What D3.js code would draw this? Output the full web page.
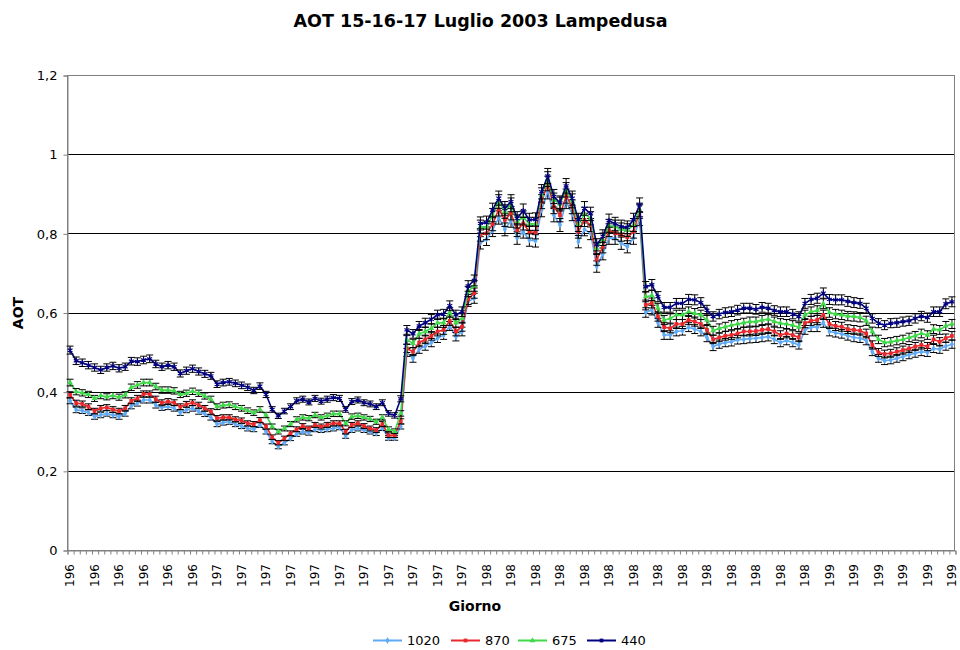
<!DOCTYPE html>
<html>
<head>
<meta charset="utf-8">
<script src="https://cdn.jsdelivr.net/npm/d3@7"></script>
<style>
  html, body { margin: 0; padding: 0; background: #fff; }
  svg { display: block; font-family: "DejaVu Sans", Verdana, sans-serif; }
</style>
</head>
<body>
<svg id="chart" width="960" height="650"></svg>
<script>
// AOT measurements at four wavelengths (nm), one value per observation
const seriesNames = ["1020", "870", "675", "440"];

const aot1020 = [0.377,0.354,0.352,0.347,0.337,0.341,0.345,0.341,0.337,0.345,
0.364,0.371,0.379,0.379,0.366,0.360,0.362,0.358,0.347,0.354,
0.358,0.350,0.344,0.335,0.318,0.322,0.324,0.318,0.313,0.307,
0.305,0.316,0.299,0.274,0.261,0.271,0.282,0.293,0.299,0.296,
0.305,0.303,0.305,0.307,0.310,0.288,0.303,0.307,0.303,0.299,
0.295,0.308,0.283,0.283,0.312,0.499,0.484,0.507,0.515,0.524,
0.535,0.543,0.566,0.539,0.552,0.628,0.636,0.776,0.785,0.808,
0.840,0.810,0.832,0.788,0.804,0.783,0.781,0.859,0.905,0.846,
0.821,0.880,0.849,0.779,0.810,0.800,0.716,0.748,0.788,0.788,
0.775,0.766,0.788,0.836,0.600,0.606,0.574,0.543,0.543,0.552,
0.554,0.563,0.558,0.552,0.537,0.514,0.520,0.524,0.526,0.531,
0.532,0.534,0.535,0.537,0.539,0.532,0.524,0.529,0.524,0.518,
0.556,0.563,0.563,0.574,0.552,0.549,0.546,0.541,0.537,0.535,
0.529,0.501,0.484,0.478,0.480,0.484,0.488,0.493,0.497,0.501,
0.499,0.509,0.507,0.515,0.520];

const aot870 = [0.392,0.371,0.369,0.362,0.351,0.358,0.360,0.355,0.351,0.358,
0.377,0.383,0.394,0.394,0.381,0.372,0.375,0.372,0.362,0.368,
0.372,0.366,0.358,0.350,0.333,0.335,0.335,0.330,0.327,0.320,
0.318,0.328,0.312,0.285,0.271,0.282,0.295,0.305,0.313,0.307,
0.316,0.312,0.316,0.320,0.320,0.299,0.316,0.320,0.313,0.307,
0.303,0.318,0.290,0.290,0.325,0.509,0.501,0.524,0.532,0.541,
0.552,0.556,0.579,0.552,0.564,0.633,0.649,0.796,0.800,0.823,
0.861,0.834,0.851,0.808,0.825,0.804,0.802,0.880,0.926,0.867,
0.846,0.894,0.867,0.804,0.834,0.821,0.734,0.766,0.808,0.800,
0.796,0.790,0.804,0.855,0.619,0.624,0.590,0.563,0.560,0.571,
0.571,0.581,0.577,0.571,0.556,0.532,0.537,0.541,0.543,0.547,
0.552,0.552,0.553,0.556,0.558,0.552,0.543,0.547,0.543,0.537,
0.573,0.579,0.581,0.594,0.571,0.566,0.564,0.558,0.556,0.554,
0.547,0.518,0.499,0.495,0.497,0.501,0.505,0.509,0.514,0.518,
0.514,0.532,0.526,0.535,0.541];

const aot675 = [0.423,0.400,0.397,0.393,0.383,0.390,0.387,0.390,0.386,0.392,
0.411,0.417,0.423,0.423,0.413,0.404,0.404,0.402,0.393,0.396,
0.401,0.396,0.389,0.381,0.362,0.366,0.367,0.362,0.358,0.352,
0.347,0.355,0.341,0.312,0.299,0.307,0.318,0.330,0.335,0.333,
0.341,0.335,0.339,0.344,0.344,0.320,0.337,0.339,0.335,0.331,
0.324,0.335,0.305,0.300,0.345,0.531,0.522,0.546,0.552,0.560,
0.574,0.574,0.600,0.574,0.585,0.653,0.667,0.817,0.815,0.846,
0.880,0.855,0.872,0.830,0.840,0.824,0.824,0.897,0.937,0.884,
0.874,0.910,0.882,0.821,0.849,0.838,0.762,0.785,0.819,0.817,
0.810,0.808,0.821,0.859,0.640,0.643,0.611,0.581,0.585,0.594,
0.594,0.602,0.598,0.594,0.581,0.554,0.560,0.564,0.568,0.571,
0.574,0.577,0.577,0.581,0.583,0.577,0.573,0.571,0.568,0.563,
0.594,0.602,0.605,0.622,0.600,0.596,0.594,0.591,0.590,0.588,
0.579,0.552,0.532,0.524,0.526,0.529,0.532,0.537,0.541,0.547,
0.543,0.558,0.556,0.566,0.571];

const aot440 = [0.505,0.478,0.473,0.467,0.461,0.455,0.461,0.465,0.459,0.463,
0.477,0.476,0.480,0.483,0.470,0.463,0.467,0.463,0.446,0.453,
0.458,0.451,0.445,0.440,0.419,0.423,0.425,0.421,0.416,0.411,
0.403,0.414,0.393,0.355,0.339,0.351,0.362,0.377,0.381,0.374,
0.383,0.376,0.381,0.385,0.383,0.355,0.375,0.379,0.372,0.369,
0.362,0.372,0.345,0.340,0.382,0.556,0.546,0.566,0.574,0.583,
0.594,0.596,0.617,0.594,0.602,0.667,0.681,0.825,0.827,0.859,
0.889,0.863,0.880,0.838,0.857,0.834,0.835,0.905,0.945,0.893,
0.877,0.920,0.889,0.834,0.863,0.849,0.771,0.793,0.832,0.824,
0.817,0.815,0.834,0.872,0.665,0.670,0.640,0.613,0.613,0.623,
0.623,0.633,0.632,0.625,0.606,0.590,0.596,0.600,0.602,0.606,
0.611,0.611,0.608,0.613,0.611,0.605,0.602,0.602,0.596,0.590,
0.623,0.633,0.636,0.649,0.633,0.632,0.632,0.628,0.625,0.623,
0.611,0.585,0.573,0.568,0.573,0.574,0.577,0.579,0.585,0.591,
0.587,0.602,0.602,0.622,0.627];

// Category labels (day of year), one shown every 4th observation
const dayLabels = ["196","196","196","196","196","196",
"197","197","197","197","197","197","197","197","197","197","197",
"198","198","198","198","198","198","198","198","198","198","198","198","198","198",
"199","199","199","199","199","199"];
const labelEvery = 4;

const yTickValues = [0, 0.2, 0.4, 0.6, 0.8, 1.0, 1.2];
const yTickLabels = ["0", "0,2", "0,4", "0,6", "0,8", "1", "1,2"];

// relative uncertainty drawn as error bars
const errFraction = 0.02;

const seriesValues = [aot1020, aot870, aot675, aot440];
const seriesColors = ["#5fa9f5", "#e8282c", "#3fd94a", "#000080"];
const seriesSymbols = [d3.symbolDiamond, d3.symbolSquare, d3.symbolTriangle, d3.symbolAsterisk];

const svg = d3.select("#chart");
const plot = { left: 67, right: 955, top: 75, bottom: 550 };
const N = aot440.length;

const x = d3.scaleBand().domain(d3.range(N)).range([plot.left, plot.right]).padding(0);
const cx = i => x(i) + x.bandwidth() / 2;
const xEdge = d3.scaleLinear().domain([0, N]).range([plot.left, plot.right]);
const y = d3.scaleLinear().domain([0, 1.2]).range([plot.bottom, plot.top]);

// gridlines
svg.append("g").selectAll("line")
  .data(yTickValues.filter(v => v > 0 && v < 1.2))
  .join("line")
  .attr("x1", plot.left).attr("x2", plot.right)
  .attr("y1", d => Math.round(y(d)) + 0.5).attr("y2", d => Math.round(y(d)) + 0.5)
  .attr("stroke", "#000").attr("stroke-width", 1);

// plot area frame
svg.append("rect")
  .attr("x", plot.left + 0.5).attr("y", plot.top + 0.5)
  .attr("width", plot.right - plot.left - 1).attr("height", plot.bottom - plot.top)
  .attr("fill", "none").attr("stroke", "#808080").attr("stroke-width", 1);

// y axis
const yAxis = d3.axisLeft(y).tickValues(yTickValues)
  .tickFormat((d, i) => yTickLabels[i]).tickSize(4).tickPadding(6);
const gy = svg.append("g").attr("transform", `translate(${plot.left + 0.5},0.5)`).call(yAxis);
gy.select(".domain").attr("stroke", "#808080");
gy.selectAll(".tick line").attr("stroke", "#808080");
gy.selectAll(".tick text").attr("font-size", 13).attr("fill", "#000")
  .attr("font-family", "DejaVu Sans, Verdana, sans-serif");

// x axis: tick marks at category boundaries
const xAxis = d3.axisBottom(xEdge).tickValues(d3.range(N + 1)).tickFormat("").tickSize(4);
const gx = svg.append("g").attr("transform", `translate(0.5,${plot.bottom + 0.5})`).call(xAxis);
gx.select(".domain").attr("stroke", "#808080");
gx.selectAll(".tick line").attr("stroke", "#808080");

// category labels, rotated
svg.append("g").selectAll("text")
  .data(dayLabels)
  .join("text")
  .attr("transform", (d, k) => `translate(${cx(k * labelEvery)},${plot.bottom + 14}) rotate(-90)`)
  .attr("text-anchor", "end")
  .attr("dy", "0.35em")
  .attr("font-size", 12)
  .attr("fill", "#000")
  .text(d => d);

// series: line, error bars, markers
const line = d3.line().x((d, i) => cx(i)).y(d => y(d));
seriesValues.forEach((vals, s) => {
  const g = svg.append("g");
  g.append("path").datum(vals)
    .attr("d", line).attr("fill", "none")
    .attr("stroke", seriesColors[s]).attr("stroke-width", 1.6)
    .attr("stroke-linejoin", "round");

  const eb = g.append("g").attr("stroke", "#000").attr("stroke-width", 1);
  vals.forEach((v, i) => {
    const lo = y(v * (1 - errFraction)), hi = y(v * (1 + errFraction));
    const px = cx(i);
    eb.append("line").attr("x1", px).attr("x2", px).attr("y1", lo).attr("y2", hi);
    eb.append("line").attr("x1", px - 3.5).attr("x2", px + 3.5).attr("y1", lo).attr("y2", lo);
    eb.append("line").attr("x1", px - 3.5).attr("x2", px + 3.5).attr("y1", hi).attr("y2", hi);
  });

  const sym = d3.symbol().type(seriesSymbols[s]).size(s === 3 ? 22 : 14);
  g.append("g").selectAll("path")
    .data(vals)
    .join("path")
    .attr("transform", (d, i) => `translate(${cx(i)},${y(d)})`)
    .attr("d", sym)
    .attr("fill", s === 3 ? "none" : seriesColors[s])
    .attr("stroke", s === 3 ? seriesColors[s] : "none")
    .attr("stroke-width", 1.2);
});

// title and axis titles
svg.append("text").attr("x", 480.5).attr("y", 26.5).attr("text-anchor", "middle")
  .attr("font-size", 17.5).attr("font-weight", "bold").text("AOT 15-16-17 Luglio 2003 Lampedusa");
svg.append("text").attr("transform", "translate(23,313) rotate(-90)").attr("text-anchor", "middle")
  .attr("font-size", 14).attr("font-weight", "bold").text("AOT");
svg.append("text").attr("x", 475).attr("y", 611).attr("text-anchor", "middle")
  .attr("font-size", 14).attr("font-weight", "bold").text("Giorno");

// legend
const legendX = [373, 451, 518, 587];
const lg = svg.append("g");
seriesNames.forEach((name, s) => {
  const gx0 = legendX[s], ly = 640.5;
  lg.append("line").attr("x1", gx0).attr("x2", gx0 + 29).attr("y1", ly).attr("y2", ly)
    .attr("stroke", seriesColors[s]).attr("stroke-width", 2);
  lg.append("path").attr("transform", `translate(${gx0 + 14.5},${ly})`)
    .attr("d", d3.symbol().type(s === 3 ? d3.symbolSquare : seriesSymbols[s]).size(14))
    .attr("fill", seriesColors[s]);
  lg.append("text").attr("x", gx0 + 34).attr("y", ly).attr("dy", "0.36em")
    .attr("font-size", 13).attr("fill", "#000").text(name);
});
</script>
</body>
</html>
